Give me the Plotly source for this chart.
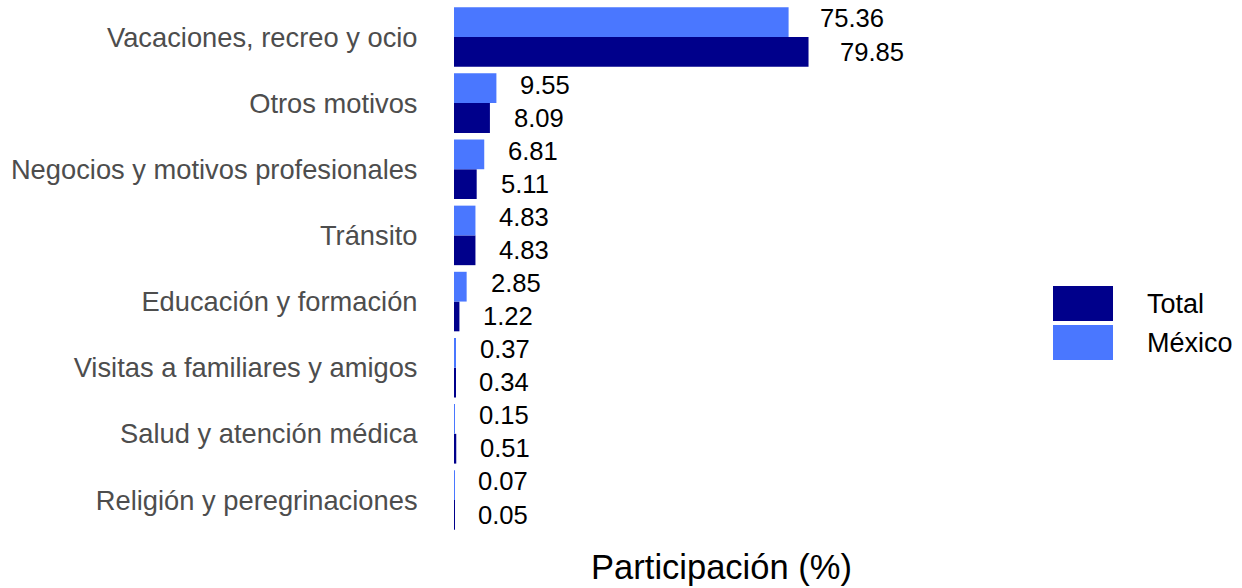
import plotly.graph_objects as go

# categories listed bottom -> top
categorias = [
    "Religión y peregrinaciones",
    "Salud y atención médica",
    "Visitas a familiares y amigos",
    "Educación y formación",
    "Tránsito",
    "Negocios y motivos profesionales",
    "Otros motivos",
    "Vacaciones, recreo y ocio",
]
total = [0.05, 0.51, 0.34, 1.22, 4.83, 5.11, 8.09, 79.85]
mexico = [0.07, 0.15, 0.37, 2.85, 4.83, 6.81, 9.55, 75.36]

COL_TOTAL = "#00008B"
COL_MEX = "#4A77FF"
FONT = "Liberation Sans, Arial, sans-serif"

W, H = 1242, 588
L, R_EDGE, T, B_EDGE = 454, 989, 0, 540
XMAX = (R_EDGE - L) / 4.44


def px_to_paper(px, py):
    return (px - L) / (R_EDGE - L), 1 - (py - T) / (B_EDGE - T)


def text_w(s, size=25.6):
    w = {".": 0.278}
    return sum(w.get(c, 0.556) for c in s) * size


fig = go.Figure()
fig.add_trace(go.Bar(y=categorias, x=total, orientation="h", name="Total",
                     marker=dict(color=COL_TOTAL, line=dict(width=0)),
                     showlegend=False))
fig.add_trace(go.Bar(y=categorias, x=mexico, orientation="h", name="México",
                     marker=dict(color=COL_MEX, line=dict(width=0)),
                     showlegend=False))

# value labels (hjust = -0.5 style, dodged by 0.5 category)
for i in range(len(categorias)):
    for val, dy in ((total[i], -0.25), (mexico[i], 0.25)):
        s = f"{val:.2f}"
        fig.add_annotation(x=val, y=i + dy, text=s, showarrow=False,
                           xanchor="left", yanchor="middle",
                           xshift=text_w(s) * 0.5 - 3, yshift=2,
                           font=dict(family=FONT, size=25.6, color="black"))

# legend (drawn by hand to get the large ggplot keys)
for label, col, y0, y1 in (("Total", COL_TOTAL, 286, 321),
                           ("México", COL_MEX, 325, 360)):
    xa, ya = px_to_paper(1053, y0)
    xb, yb = px_to_paper(1113, y1)
    fig.add_shape(type="rect", xref="paper", yref="paper",
                  x0=xa, x1=xb, y0=yb, y1=ya,
                  fillcolor=col, line=dict(width=0))
    tx, ty = px_to_paper(1145, (y0 + y1) / 2)
    fig.add_annotation(xref="paper", yref="paper", x=tx, y=ty, text=label,
                       showarrow=False, xanchor="left", yanchor="middle",
                       font=dict(family=FONT, size=27, color="black"))

fig.update_layout(
    width=W, height=H,
    margin=dict(l=L, r=W - R_EDGE, t=T, b=H - B_EDGE),
    barmode="group", bargap=0.1, bargroupgap=0,
    plot_bgcolor="white", paper_bgcolor="white",
    font=dict(family=FONT),
    showlegend=False,
)
fig.update_xaxes(range=[0, XMAX], showgrid=False, zeroline=False,
                 automargin=False,
                 showticklabels=False, ticks="",
                 title=dict(text="Participación (%)", standoff=14,
                            font=dict(family=FONT, size=34.5, color="black")))
fig.update_yaxes(range=[-0.605, 7.559], showgrid=False, zeroline=False,
                 automargin=False,
                 ticks="outside", ticklen=30, tickcolor="rgba(0,0,0,0)",
                 tickfont=dict(family=FONT, size=27.3, color="#4D4D4D"))

# drop the default 8px page margin so the figure fills the window
fig.write_html("out.html", config={"displayModeBar": False},
               post_script="document.body.style.margin='0';")
